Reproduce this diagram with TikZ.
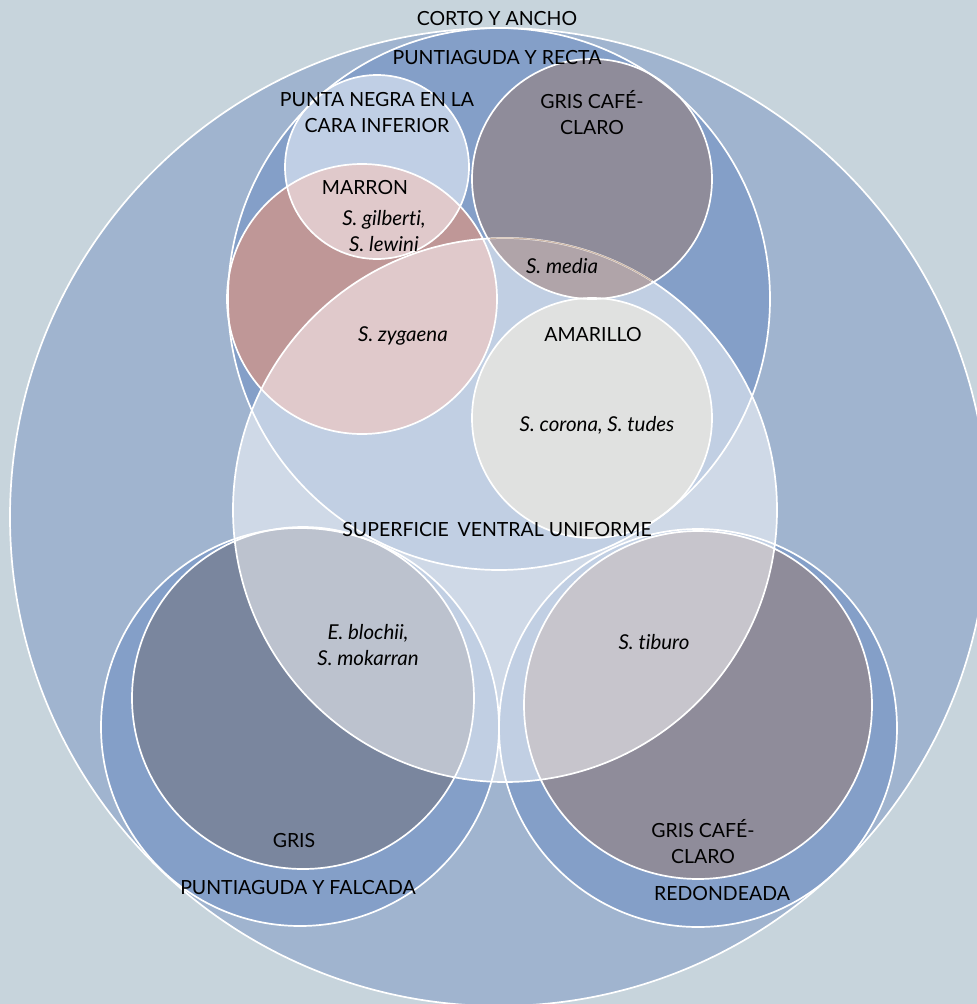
\documentclass[tikz,border=0pt]{standalone}
\usepackage{fontspec}
\setmainfont[Ligatures={NoCommon}]{Lato}
\definecolor{bgc}{HTML}{C7D4DC}
\definecolor{bigc}{HTML}{A0B4CF}
\definecolor{bluc}{HTML}{849FC8}
\definecolor{lbluc}{HTML}{C0CFE5}
\definecolor{gcafec}{HTML}{8F8C9A}
\definecolor{marrc}{HTML}{BF9797}
\definecolor{pinkc}{HTML}{E0C9CB}
\definecolor{mediac}{HTML}{B0A4A9}
\definecolor{amarc}{HTML}{E0E1E0}
\definecolor{grisc}{HTML}{7A869E}
\definecolor{tanc}{HTML}{CDB8A8}
\begin{document}
\begin{tikzpicture}[x=1pt,y=-1pt,line width=1.7pt,
  ring/.style={draw=white},
  lab/.style={font=\fontsize{19.5}{26}\selectfont,align=center,inner sep=0pt,text=black},
  sp/.style={font=\fontsize{20.5}{26}\selectfont\itshape,align=center,inner sep=0pt,text=black}]
\useasboundingbox (0,0) rectangle (977,1004);
\fill[bgc] (0,0) rectangle (977,1004);
% centres
\coordinate (cBig) at (499,517);
\coordinate (cRecta) at (499,299);
\coordinate (cPunta) at (377,167);
\coordinate (cGcT) at (592,179);
\coordinate (cMarr) at (362,299);
\coordinate (cSup) at (505,510);
\coordinate (cAmar) at (592,418);
\coordinate (cFalc) at (300,727);
\coordinate (cGris) at (303,698);
\coordinate (cRedo) at (698,728);
\coordinate (cGcB) at (698,705);
\begin{scope}
\clip (0,0) rectangle (977,1004);
% fills
\fill[bigc] (cBig) circle (489);
\fill[bluc] (cRecta) circle (271);
\fill[bluc] (cFalc) circle (199);
\fill[bluc] (cRedo) circle (199);
\fill[grisc] (cGris) circle (171);
\fill[gcafec] (cGcB) circle (174);
\fill[lbluc] (cPunta) circle (92);
\fill[gcafec] (cGcT) circle (120);
\fill[marrc] (cMarr) circle (135);
\fill[white,fill opacity=0.5] (cSup) circle (272);
\begin{scope}
  \clip (cSup) circle (272);
  \fill[mediac] (cGcT) circle (120);
\end{scope}
\begin{scope}
  \clip (cMarr) circle (135);
  \fill[pinkc] (cPunta) circle (92);
  \fill[pinkc] (cSup) circle (272);
\end{scope}
\fill[amarc] (cAmar) circle (120);
% outlines
\draw[ring] (cBig) circle (489);
\draw[ring] (cRecta) circle (271);
\draw[ring] (cFalc) circle (199);
\draw[ring] (cRedo) circle (199);
\draw[ring] (cGris) circle (171);
\draw[ring] (cGcB) circle (174);
\draw[ring] (cPunta) circle (92);
\draw[ring] (cMarr) circle (135);
\draw[ring] (cSup) circle (272);
\begin{scope}
  \clip (cGcT) circle (118);
  \draw[tanc,line width=1.2pt] (cSup) circle (272);
\end{scope}
\draw[ring] (cGcT) circle (120);
\draw[ring] (cAmar) circle (120);
\end{scope}
% labels
\node[lab] (tCorto) at (497,19) {CORTO Y ANCHO};
\node[lab] (tRecta) at (497,58) {PUNTIAGUDA Y RECTA};
\node[lab] (tPunta) at (377,113) {PUNTA NEGRA EN LA\\CARA INFERIOR};
\node[lab] (tGcT) at (592,113) {GRIS CAFÉ-\\CLARO};
\node[lab] (tMarr) at (365,188) {MARRON};
\node[sp] (tGil) at (384,231) {S. gilberti,\\S. lewini};
\node[sp] (tMedia) at (562,266) {S. media};
\node[sp] (tZyg) at (403,336) {S. zygaena};
\node[lab] (tAmar) at (593,335) {AMARILLO};
\node[sp] (tCor) at (597,425) {S. corona, S. tudes};
\node[lab] (tSup) at (497,530) {SUPERFICIE\hspace{0.45em}VENTRAL UNIFORME};
\node[sp] (tBlo) at (368,645) {E. blochii,\\S. mokarran};
\node[sp] (tTib) at (654,642) {S. tiburo};
\node[lab] (tGris) at (294,841) {GRIS};
\node[lab] (tFalc) at (298,888) {PUNTIAGUDA Y FALCADA};
\node[lab] (tGcB) at (703,842) {GRIS CAFÉ-\\CLARO};
\node[lab] (tRedo) at (722,893) {REDONDEADA};
\end{tikzpicture}
\end{document}
